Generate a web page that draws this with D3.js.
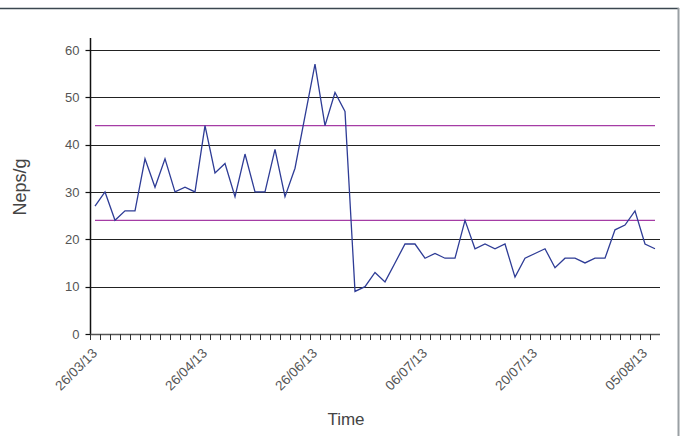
<!DOCTYPE html>
<html>
<head>
<meta charset="utf-8">
<script src="https://cdn.jsdelivr.net/npm/d3@7"></script>
<style>
  html, body { margin: 0; padding: 0; background: #fff; }
  svg { display: block; }
  text { font-family: "Liberation Sans", Arial, sans-serif; }
</style>
</head>
<body>
<script>
// ---- data ----
const samples = ["1","2","3","4","5","6","7","8","9","10","11","12","13","14","15","16","17","18","19","20",
  "21","22","23","24","25","26","27","28","29","30","31","32","33","34","35","36","37","38","39","40",
  "41","42","43","44","45","46","47","48","49","50","51","52","53","54","55","56","57"];
const nepsValues = [27,30,24,26,26,37,31,37,30,31,30,44,34,36,29,38,30,30,39,29,
  35,46,57,44,51,47,9,10,13,11,15,19,19,16,17,16,16,24,18,19,
  18,19,12,16,17,18,14,16,16,15,16,16,22,23,26,19,18];
const tickSamples = ["1","12","23","34","45","56"];
const tickLabels = ["26/03/13","26/04/13","26/06/13","06/07/13","20/07/13","05/08/13"];
const limitValues = [44, 24];
const yTicks = [0,10,20,30,40,50,60];

// ---- layout ----
const W = 681, H = 436;
const mLeft = 90, mRight = 660, mTop = 38, mBottom = 334;

const svg = d3.select("body").append("svg").attr("width", W).attr("height", H);

const x = d3.scaleBand().domain(samples).range([mLeft, mRight]).paddingInner(0).paddingOuter(0);
const y = d3.scaleLinear().domain([0, 62.5]).range([mBottom, mTop]);
const cx = s => x(s) + x.bandwidth() / 2;

// frame
svg.append("line").attr("x1", 0).attr("x2", 679).attr("y1", 8.5).attr("y2", 8.5)
  .attr("stroke", "#3b4750").attr("stroke-width", 1.5);
svg.append("line").attr("x1", 678.5).attr("x2", 678.5).attr("y1", 8).attr("y2", H)
  .attr("stroke", "#9aa0a4").attr("stroke-width", 2);

// gridlines
svg.append("g").selectAll("line").data(yTicks.filter(d => d > 0)).join("line")
  .attr("x1", mLeft).attr("x2", mRight)
  .attr("y1", d => Math.round(y(d)) + 0.5).attr("y2", d => Math.round(y(d)) + 0.5)
  .attr("stroke", "#222").attr("stroke-width", 1.2);

// y axis
const yAxis = svg.append("g").attr("transform", `translate(${mLeft + 0.5},0)`);
yAxis.append("line").attr("x1", 0).attr("x2", 0).attr("y1", y(62.5)).attr("y2", y(0))
  .attr("stroke", "#111").attr("stroke-width", 1.5);
yAxis.selectAll(".yt").data(yTicks).join("line").attr("class", "yt")
  .attr("x1", -5).attr("x2", 0)
  .attr("y1", d => Math.round(y(d)) + 0.5).attr("y2", d => Math.round(y(d)) + 0.5)
  .attr("stroke", "#111").attr("stroke-width", 1.2);
yAxis.selectAll(".yl").data(yTicks).join("text").attr("class", "yl")
  .attr("x", -11).attr("y", d => y(d)).attr("dy", "0.36em")
  .attr("text-anchor", "end").attr("font-size", 13).attr("fill", "#555")
  .text(d => d);

// x axis
const xAxis = svg.append("g");
xAxis.append("line").attr("x1", mLeft).attr("x2", mRight)
  .attr("y1", mBottom + 0.5).attr("y2", mBottom + 0.5)
  .attr("stroke", "#555").attr("stroke-width", 1.5);
xAxis.selectAll(".xt").data(samples).join("line").attr("class", "xt")
  .attr("x1", d => Math.round(x(d)) + 0.5).attr("x2", d => Math.round(x(d)) + 0.5)
  .attr("y1", mBottom).attr("y2", mBottom + 6)
  .attr("stroke", "#333").attr("stroke-width", 1);
xAxis.selectAll(".xl").data(tickSamples).join("text").attr("class", "xl")
  .attr("transform", d => `translate(${cx(d) + 3},${mBottom + 20}) rotate(-45)`)
  .attr("text-anchor", "end").attr("font-size", 13.5).attr("fill", "#555")
  .text((d, i) => tickLabels[i]);

// limit lines
svg.append("g").selectAll("line").data(limitValues).join("line")
  .attr("x1", cx(samples[0])).attr("x2", cx(samples[samples.length - 1]))
  .attr("y1", d => y(d)).attr("y2", d => y(d))
  .attr("stroke", "#a53ca5").attr("stroke-width", 1.3);

// data line
const line = d3.line().x((d, i) => cx(samples[i])).y(d => y(d));
svg.append("path").datum(nepsValues).attr("d", line)
  .attr("fill", "none").attr("stroke", "#2e3c96").attr("stroke-width", 1.3)
  .attr("stroke-linejoin", "miter");

// titles
svg.append("text").attr("transform", `translate(26,${(y(0) + y(60)) / 2 - 5}) rotate(-90)`)
  .attr("text-anchor", "middle").attr("font-size", 18).attr("fill", "#444")
  .text("Neps/g");
svg.append("text").attr("x", 346).attr("y", 425)
  .attr("text-anchor", "middle").attr("font-size", 17).attr("fill", "#444")
  .text("Time");
</script>
</body>
</html>
